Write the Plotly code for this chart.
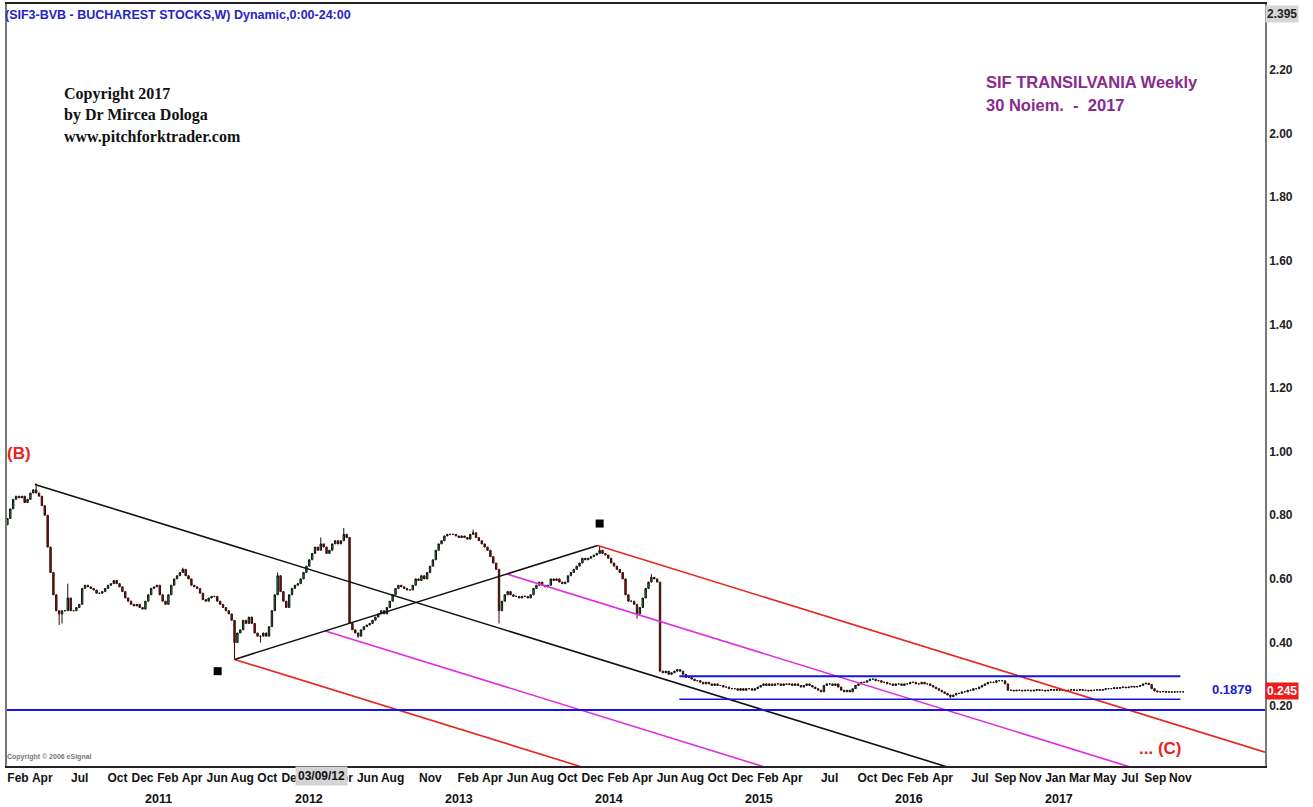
import pandas as pd
import plotly.graph_objects as go

# ---------------- data ----------------
close_2010 = [0.79, 0.82, 0.85, 0.86, 0.855, 0.86, 0.84, 0.85, 0.87, 0.88,
              0.87, 0.86, 0.83, 0.80, 0.70, 0.62, 0.55, 0.50, 0.49, 0.50,
              0.50, 0.54, 0.50, 0.50, 0.51, 0.52, 0.57, 0.58, 0.575, 0.57,
              0.565, 0.555, 0.555, 0.56, 0.57, 0.58, 0.585, 0.595, 0.585, 0.575,
              0.56, 0.54, 0.53, 0.52, 0.515, 0.52, 0.51, 0.505, 0.53, 0.55, 0.57]
close_2011 = [0.575, 0.58, 0.55, 0.53, 0.52, 0.55, 0.58, 0.60, 0.61, 0.62,
              0.63, 0.61, 0.60, 0.58, 0.575, 0.57, 0.555, 0.535, 0.53, 0.54,
              0.545, 0.545, 0.53, 0.52, 0.51, 0.50, 0.49, 0.47, 0.40, 0.43,
              0.44, 0.47, 0.46, 0.48, 0.46, 0.43, 0.42, 0.42, 0.43, 0.42,
              0.45, 0.50, 0.55, 0.61, 0.56, 0.53, 0.51, 0.55, 0.57, 0.58,
              0.585, 0.60]
close_2012 = [0.62, 0.64, 0.66, 0.68, 0.70, 0.69, 0.71, 0.70, 0.68, 0.69,
              0.71, 0.72, 0.71, 0.72, 0.74, 0.73, 0.46, 0.44, 0.43, 0.42,
              0.44, 0.45, 0.455, 0.46, 0.47, 0.48, 0.49, 0.50, 0.49, 0.51,
              0.53, 0.55, 0.57, 0.58, 0.575, 0.57, 0.565, 0.565, 0.58, 0.60,
              0.595, 0.61, 0.60, 0.62, 0.64, 0.66, 0.69, 0.71, 0.72, 0.735,
              0.74, 0.74]
close_2013 = [0.74, 0.735, 0.73, 0.735, 0.73, 0.725, 0.74, 0.745, 0.73, 0.72,
              0.71, 0.70, 0.69, 0.67, 0.65, 0.63, 0.50, 0.53, 0.55, 0.56,
              0.55, 0.545, 0.545, 0.54, 0.545, 0.545, 0.54, 0.55, 0.57, 0.58,
              0.59, 0.58, 0.575, 0.58, 0.60, 0.595, 0.60, 0.59, 0.585, 0.59,
              0.61, 0.62, 0.63, 0.64, 0.65, 0.665, 0.66, 0.665, 0.67, 0.675,
              0.68, 0.69, 0.68]
close_2014 = [0.675, 0.665, 0.65, 0.64, 0.63, 0.62, 0.60, 0.55, 0.53, 0.53,
              0.52, 0.49, 0.51, 0.54, 0.57, 0.59, 0.605, 0.60, 0.59, 0.31,
              0.305, 0.31, 0.30, 0.305, 0.31, 0.315, 0.31, 0.30, 0.29, 0.29,
              0.285, 0.28, 0.28, 0.275, 0.27, 0.275, 0.27, 0.265, 0.27, 0.265,
              0.265, 0.26, 0.26, 0.255, 0.255, 0.255, 0.25, 0.255, 0.25, 0.255,
              0.255, 0.25]
close_2015 = [0.255, 0.26, 0.265, 0.27, 0.265, 0.27, 0.265, 0.27, 0.27, 0.265,
              0.27, 0.268, 0.27, 0.265, 0.27, 0.265, 0.26, 0.265, 0.27, 0.265,
              0.26, 0.255, 0.25, 0.245, 0.265, 0.27, 0.27, 0.265, 0.27, 0.26,
              0.25, 0.245, 0.25, 0.245, 0.255, 0.265, 0.27, 0.275, 0.275, 0.28,
              0.285, 0.285, 0.28, 0.28, 0.275, 0.275, 0.27, 0.27, 0.265, 0.27,
              0.27, 0.265]
close_2016 = [0.27, 0.27, 0.275, 0.275, 0.27, 0.27, 0.275, 0.27, 0.27, 0.265,
              0.26, 0.255, 0.25, 0.245, 0.24, 0.235, 0.23, 0.235, 0.24, 0.24,
              0.245, 0.245, 0.25, 0.25, 0.255, 0.255, 0.26, 0.265, 0.27, 0.275,
              0.275, 0.275, 0.28, 0.28, 0.28, 0.27, 0.25, 0.25, 0.248, 0.25,
              0.25, 0.248, 0.25, 0.25, 0.248, 0.25, 0.252, 0.25, 0.25, 0.248,
              0.25, 0.252]
close_2017 = [0.25, 0.252, 0.25, 0.25, 0.248, 0.25, 0.252, 0.25, 0.25, 0.252,
              0.25, 0.25, 0.248, 0.25, 0.25, 0.252, 0.25, 0.252, 0.255, 0.255,
              0.255, 0.258, 0.256, 0.258, 0.26, 0.258, 0.26, 0.262, 0.26, 0.262,
              0.265, 0.27, 0.272, 0.268, 0.255, 0.248, 0.245, 0.245, 0.246, 0.244,
              0.245, 0.244, 0.245, 0.245, 0.245, 0.245]
first_week = "2010-01-11"
first_open = 0.77

wick_high_dates = ["2010-03-22", "2010-06-07", "2011-03-14", "2011-10-31", "2012-02-13",
                   "2012-04-09", "2013-02-18", "2013-12-23", "2014-04-28"]
wick_high_vals = [0.90, 0.585, 0.635, 0.62, 0.73, 0.76, 0.755, 0.705, 0.615]
wick_low_dates = ["2010-05-17", "2010-05-24", "2011-07-18", "2011-09-19", "2012-05-14",
                  "2013-04-22", "2014-03-24", "2016-04-25"]
wick_low_vals = [0.455, 0.46, 0.347, 0.40, 0.415, 0.46, 0.475, 0.225]

# pitchfork pivots  B (high), A (low), C (high)
pivot_dates = ["2010-03-19", "2011-07-18", "2013-12-18"]
pivot_vals = [0.897, 0.347, 0.705]

range_dates = ["2014-07-05", "2017-11-06"]
range_upper = 0.294
range_lower = 0.222
support_level = 0.1879
last_price = 0.245
axis_top = 2.395
marker_dates = ["2011-06-07", "2013-12-23"]
marker_vals = [0.31, 0.774]

x_start, x_end = "2010-01-10", "2018-05-31"
y_min, y_max = 0.0119, 2.407
y_tick_vals = [0.2, 0.4, 0.6, 0.8, 1.0, 1.2, 1.4, 1.6, 1.8, 2.0, 2.2]

tick_dates = ["2010-02-01", "2010-04-01", "2010-07-01", "2010-10-01", "2010-12-01",
              "2011-02-01", "2011-04-01", "2011-06-01", "2011-08-01", "2011-10-01", "2011-12-01",
              "2012-04-01", "2012-06-01", "2012-08-01", "2012-11-01",
              "2013-02-01", "2013-04-01", "2013-06-01", "2013-08-01", "2013-10-01", "2013-12-01",
              "2014-02-01", "2014-04-01", "2014-06-01", "2014-08-01", "2014-10-01", "2014-12-01",
              "2015-02-01", "2015-04-01", "2015-07-01", "2015-10-01", "2015-12-01",
              "2016-02-01", "2016-04-01", "2016-07-01", "2016-09-01", "2016-11-01",
              "2017-01-01", "2017-03-01", "2017-05-01", "2017-07-01", "2017-09-01", "2017-11-01"]
year_labels = ["2011", "2012", "2013", "2014", "2015", "2016", "2017"]
cursor_label = "03/09/12"

# ---------------- build ----------------
closes = close_2010 + close_2011 + close_2012 + close_2013 + close_2014 + close_2015 + close_2016 + close_2017
dates = pd.date_range(first_week, periods=len(closes), freq="W-MON")
opens = [first_open] + closes[:-1]
highs = [max(o, c) for o, c in zip(opens, closes)]
lows = [min(o, c) for o, c in zip(opens, closes)]
idx = {d.strftime("%Y-%m-%d"): i for i, d in enumerate(dates)}
for d, v in zip(wick_high_dates, wick_high_vals):
    highs[idx[d]] = v
for d, v in zip(wick_low_dates, wick_low_vals):
    lows[idx[d]] = v

SANS = "Liberation Sans Narrow, Arial Narrow, Liberation Sans, Arial, sans-serif"
SERIF = "Liberation Serif, Times New Roman, serif"

fig = go.Figure()

# pitchfork geometry in data units
t0 = pd.Timestamp(first_week)
def tnum(d):
    return (pd.Timestamp(d) - t0) / pd.Timedelta(days=1)
def tdate(t):
    return t0 + pd.Timedelta(days=t)

tB, tA, tC = [tnum(d) for d in pivot_dates]
vB, vA, vC = pivot_vals
tM, vM = (tA + tC) / 2, (vA + vC) / 2
slope = (vM - vB) / (tM - tB)
tE = tnum(x_end)

def ray(t, v):
    return [tdate(t), tdate(tE)], [v, v + slope * (tE - t)]

RED, MAG = "#e8251c", "#e02ae0"
lines = [
    (ray(tB, vB), "#111111"),
    (ray(tA, vA), RED),
    (ray(tC, vC), RED),
    (ray(tA + 0.25 * (tC - tA), vA + 0.25 * (vC - vA)), MAG),
    (ray(tA + 0.75 * (tC - tA), vA + 0.75 * (vC - vA)), MAG),
    (([tdate(tA), tdate(tC)], [vA, vC]), "#111111"),
]
for (xs, ys), col in lines:
    fig.add_trace(go.Scatter(x=xs, y=ys, mode="lines", line=dict(color=col, width=1.6),
                             hoverinfo="skip"))

# horizontal levels
fig.add_trace(go.Scatter(x=[x_start, x_end], y=[support_level, support_level], mode="lines",
                         line=dict(color="#1414e6", width=2), hoverinfo="skip"))
fig.add_trace(go.Scatter(x=range_dates, y=[range_upper, range_upper], mode="lines",
                         line=dict(color="#1414e6", width=2), hoverinfo="skip"))
fig.add_trace(go.Scatter(x=range_dates, y=[range_lower, range_lower], mode="lines",
                         line=dict(color="#1414e6", width=1.5), hoverinfo="skip"))

# candles
fig.add_trace(go.Candlestick(
    x=dates, open=opens, high=highs, low=lows, close=closes,
    increasing=dict(fillcolor="#22a822", line=dict(color="#111111", width=1)),
    decreasing=dict(fillcolor="#8e1414", line=dict(color="#3a0808", width=1)),
    whiskerwidth=0, hoverinfo="skip"))

# pivot markers
fig.add_trace(go.Scatter(x=marker_dates, y=marker_vals, mode="markers",
                         marker=dict(symbol="square", size=8, color="black"), hoverinfo="skip"))

# ---------------- layout ----------------
L, R, T, B = 7, 1265, 2, 766
def px(x):
    return (x - L) / (R - L)
def py(y):
    return (B - y) / (B - T)

ann = []
def text(x, y, s, size, color, family=SANS, anchor="left", **kw):
    ann.append(dict(x=px(x), y=py(y), xref="paper", yref="paper", text=s, showarrow=False,
                    xanchor=anchor, yanchor="middle",
                    font=dict(family=family, size=size, color=color, weight="bold"), **kw))

text(3, 13, "(SIF3-BVB - BUCHAREST STOCKS,W) Dynamic,0:00-24:00", 12.5, "#2424c8")
text(62, 92, "Copyright 2017", 16, "#111111", family=SERIF)
text(62, 113, "by Dr Mircea Dologa", 16, "#111111", family=SERIF)
text(62, 135, "www.pitchforktrader.com", 16, "#111111", family=SERIF)
text(984, 80, "SIF TRANSILVANIA Weekly", 16.5, "#8a2a8e")
text(984, 103, "30 Noiem.  -  2017", 16.5, "#8a2a8e")
text(5, 453, "(B)", 17, RED)
text(1137, 748, "... (C)", 17, RED)
text(1210, 689, f"{support_level:.4f}", 13, "#2020d0")
text(5, 757, "Copyright &#169; 2006 eSignal", 7, "#777777")
text(1265, 691, f"{last_price:.3f}", 12, "white", bgcolor="#ee1c1c", borderpad=1)
text(1265, 12, f"{axis_top:.3f}", 12, "#222222", bgcolor="#d6d6d6", borderpad=1)
text(322, 776, cursor_label, 12, "#111111", anchor="center", bgcolor="#d4d4d4", borderpad=2)

for yl in year_labels:
    ann.append(dict(x=f"{yl}-01-15", y=py(799), xref="x", yref="paper", text=yl,
                    showarrow=False, xanchor="center", yanchor="middle",
                    font=dict(family=SANS, size=12.5, color="#111111", weight="bold")))

fig.update_layout(
    width=1313, height=807,
    margin=dict(l=L, r=1313 - R, t=T, b=807 - B),
    plot_bgcolor="white", paper_bgcolor="white",
    showlegend=False, annotations=ann,
    xaxis=dict(type="date", range=[x_start, x_end], rangeslider=dict(visible=False),
               showgrid=False, zeroline=False, showline=True, linecolor="#222222", linewidth=2,
               mirror=True, ticks="", tickangle=0, tickvals=tick_dates,
               ticktext=[pd.Timestamp(d).strftime("%b") for d in tick_dates],
               ticklabelshift=2,
               tickfont=dict(family=SANS, size=12, color="#111111", weight="bold")),
    yaxis=dict(side="right", range=[y_min, y_max], showgrid=False, zeroline=False,
               showline=True, linecolor="#777777", linewidth=1.5, mirror=True, ticks="",
               tickvals=y_tick_vals, ticktext=[f"{v:.2f}" for v in y_tick_vals],
               tickfont=dict(family=SANS, size=12, color="#222222", weight="bold")),
)

fig.write_html("out.html", config={"displayModeBar": False},
               post_script="document.body.style.margin='0';")
